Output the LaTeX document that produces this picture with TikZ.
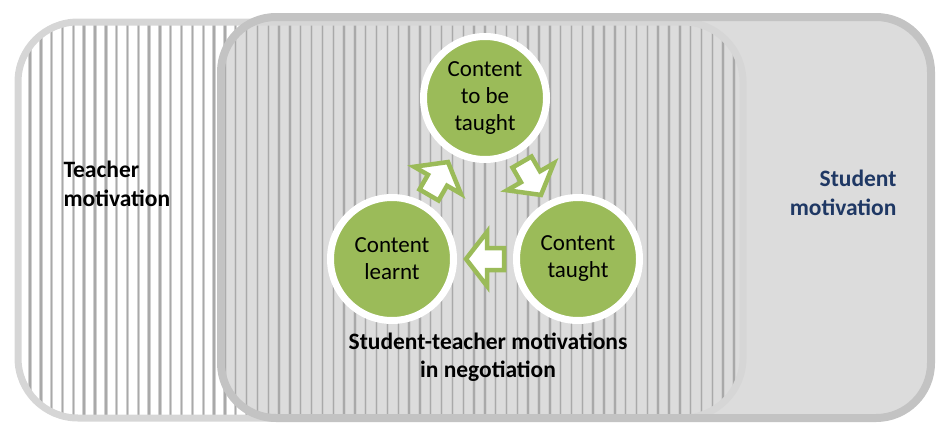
\documentclass[tikz,border=0pt]{standalone}
\usepackage{fontspec}
\setmainfont{Carlito}
\usepackage{xcolor}
\definecolor{verdeCiclo}{HTML}{9BBB59}
\definecolor{grisFondo}{HTML}{DCDCDC}
\definecolor{grisBorde}{HTML}{C3C3C3}
\definecolor{grisClaro}{HTML}{D6D6D6}
\definecolor{grisRaya}{HTML}{A9A9A9}
\definecolor{azulTexto}{HTML}{1F3864}
\usetikzlibrary{calc,shadows}

\begin{document}
\begin{tikzpicture}[x=1pt,y=-1pt,
  content/.style={circle,fill=verdeCiclo,draw=white,line width=7pt,minimum size=123pt,
    align=center,font=\fontsize{23}{27}\selectfont,
    drop shadow={shadow xshift=2pt,shadow yshift=-2pt,opacity=.3}},
  lbl/.style={font=\fontsize{23.5}{28.5}\selectfont\bfseries},
  blockarrow/.pic={\draw[draw=verdeCiclo,fill=white,line width=4.5pt]
    (-19,-11)--(-2,-11)--(-2,-27)--(19,0)--(-2,27)--(-2,11)--(-19,11)--cycle;}]
  \useasboundingbox (0,0) rectangle (936,423);
  % student box
  \fill[grisFondo,rounded corners=55pt] (221,17) rectangle (931,418);
  % teacher box, striped
  \begin{scope}
    \clip[rounded corners=60pt] (18,22) rectangle (743,418);
    \foreach \k in {0,...,66}{
      \draw[line width=3.4pt,grisRaya!55] (30+10.83*\k,0)--(30+10.83*\k,423);
      \draw[line width=1.4pt,grisRaya] (30+10.83*\k,0)--(30+10.83*\k,423);
    }
  \end{scope}
  \draw[grisClaro,line width=7pt,rounded corners=60pt] (18,22) rectangle (743,418);
  \draw[grisBorde,line width=8pt,rounded corners=55pt] (221,17) rectangle (931,418);
  % cycle
  \node[content] (tobe) at (485,98) {Content\\to be\\taught};
  \node[content] (learnt) at (392,259) {Content\\learnt};
  \node[content] (taught) at (578,259) {Content\\taught};
  \pic[rotate=60] at ($(learnt)!.5!(tobe)$) {blockarrow};
  \pic[rotate=-60] at ($(tobe)!.5!(taught)$) {blockarrow};
  \pic[rotate=180] at ($(taught)!.5!(learnt)$) {blockarrow};
  % labels
  \node[lbl,align=left,anchor=west] (teacher) at (60,184) {Teacher\\motivation};
  \node[lbl,align=right,anchor=east,text=azulTexto] (student) at (900,193) {Student\\motivation};
  \node[lbl,align=center] (nego) at (488,357) {Student-teacher motivations\\in negotiation};
\end{tikzpicture}
\end{document}
